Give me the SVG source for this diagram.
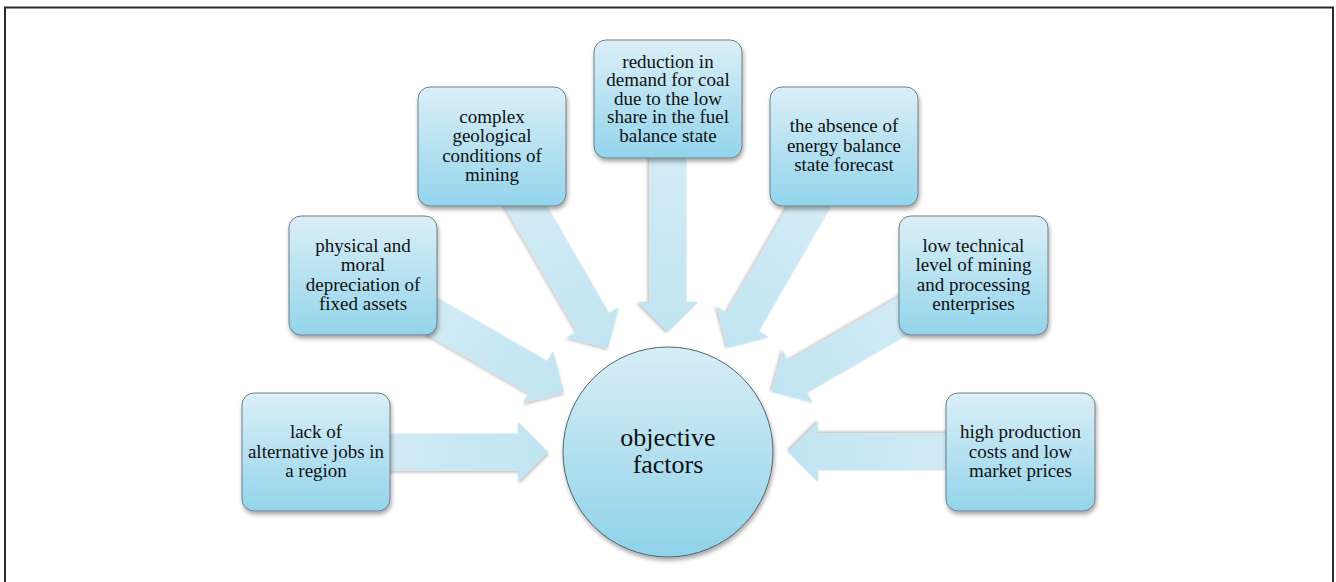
<svg xmlns="http://www.w3.org/2000/svg" width="1336" height="582" viewBox="0 0 1336 582">
<defs>
<linearGradient id="boxg" x1="0" y1="0" x2="0" y2="1">
<stop offset="0" stop-color="#dbeff7"/>
<stop offset="1" stop-color="#93d4eb"/>
</linearGradient>
<linearGradient id="circg" x1="0" y1="0" x2="0" y2="1">
<stop offset="0" stop-color="#d8eef6"/>
<stop offset="1" stop-color="#8fd2ea"/>
</linearGradient>
<linearGradient id="arrg" gradientUnits="userSpaceOnUse" x1="-352" y1="0" x2="-120" y2="0">
<stop offset="0" stop-color="#d9eef7"/>
<stop offset="1" stop-color="#c0e4f2"/>
</linearGradient>
<filter id="sh" x="-20%" y="-20%" width="140%" height="140%">
<feDropShadow dx="1" dy="3" stdDeviation="2" flood-color="#000" flood-opacity="0.35"/>
</filter>
<filter id="ash" x="-20%" y="-20%" width="140%" height="140%">
<feDropShadow dx="1" dy="2" stdDeviation="1.5" flood-color="#000" flood-opacity="0.25"/>
</filter>
</defs>
<style>
.box{fill:url(#boxg);stroke:#6f7f86;stroke-width:1;filter:url(#sh)}
.t{font-size:19px;fill:#111;text-anchor:middle}
.ct{font-size:26px;fill:#111;text-anchor:middle}
.arr{fill:url(#arrg);filter:url(#ash)}
</style>
<rect x="5" y="7.5" width="1328" height="600" fill="#fff" stroke="#2b2b2b" stroke-width="2"/>
<g id="connectors" transform="translate(668,452)">
<path id="arrow-lack" class="arr" d="M-352,-18.5 L-150,-18.5 L-150,-30 L-120,0 L-150,30 L-150,18.5 L-352,18.5 Z"/>
<path id="arrow-physical" class="arr" transform="rotate(30)" d="M-352,-18.5 L-150,-18.5 L-150,-30 L-120,0 L-150,30 L-150,18.5 L-352,18.5 Z"/>
<path id="arrow-complex" class="arr" transform="rotate(60)" d="M-352,-18.5 L-150,-18.5 L-150,-30 L-120,0 L-150,30 L-150,18.5 L-352,18.5 Z"/>
<path id="arrow-reduction" class="arr" transform="rotate(90)" d="M-352,-18.5 L-150,-18.5 L-150,-30 L-120,0 L-150,30 L-150,18.5 L-352,18.5 Z"/>
<path id="arrow-absence" class="arr" transform="rotate(120)" d="M-352,-18.5 L-150,-18.5 L-150,-30 L-120,0 L-150,30 L-150,18.5 L-352,18.5 Z"/>
<path id="arrow-lowtech" class="arr" transform="rotate(150)" d="M-352,-18.5 L-150,-18.5 L-150,-30 L-120,0 L-150,30 L-150,18.5 L-352,18.5 Z"/>
<path id="arrow-high" class="arr" transform="rotate(180)" d="M-352,-18.5 L-150,-18.5 L-150,-30 L-120,0 L-150,30 L-150,18.5 L-352,18.5 Z"/>
</g>
<g font-family="Liberation Serif, serif">
<g id="node-center">
<circle cx="668" cy="452" r="105" fill="url(#circg)" stroke="#55656b" stroke-width="1" filter="url(#sh)"/>
<text class="ct" x="668" y="446">objective</text>
<text class="ct" x="668" y="473">factors</text>
</g>
<g id="node-lack">
<rect class="box" x="242" y="393" width="148" height="118" rx="12"/>
<text class="t" x="316" y="438">lack of</text>
<text class="t" x="316" y="457.5">alternative jobs in</text>
<text class="t" x="316" y="477">a region</text>
</g>
<g id="node-physical">
<rect class="box" x="289" y="216" width="148" height="119" rx="12"/>
<text class="t" x="363" y="251.5">physical  and</text>
<text class="t" x="363" y="271">moral</text>
<text class="t" x="363" y="290.5">depreciation of</text>
<text class="t" x="363" y="310">fixed assets</text>
</g>
<g id="node-complex">
<rect class="box" x="418" y="87" width="148" height="119" rx="12"/>
<text class="t" x="492" y="122.5">complex</text>
<text class="t" x="492" y="142">geological</text>
<text class="t" x="492" y="161.5">conditions of</text>
<text class="t" x="492" y="181">mining</text>
</g>
<g id="node-reduction">
<rect class="box" x="594" y="40" width="148" height="118" rx="12"/>
<text class="t" x="668" y="67.5">reduction in</text>
<text class="t" x="668" y="86">demand  for coal</text>
<text class="t" x="668" y="104.5">due to the low</text>
<text class="t" x="668" y="123">share in the fuel</text>
<text class="t" x="668" y="141.5">balance state</text>
</g>
<g id="node-absence">
<rect class="box" x="770" y="87" width="148" height="119" rx="12"/>
<text class="t" x="844" y="132">the absence of</text>
<text class="t" x="844" y="151.5">energy  balance</text>
<text class="t" x="844" y="171">state forecast</text>
</g>
<g id="node-lowtech">
<rect class="box" x="899" y="216" width="149" height="119" rx="12"/>
<text class="t" x="973.5" y="251.5">low technical</text>
<text class="t" x="973.5" y="271">level of mining</text>
<text class="t" x="973.5" y="290.5">and processing</text>
<text class="t" x="973.5" y="310">enterprises</text>
</g>
<g id="node-high">
<rect class="box" x="946" y="393" width="149" height="118" rx="12"/>
<text class="t" x="1020.5" y="438">high production</text>
<text class="t" x="1020.5" y="457.5">costs and low</text>
<text class="t" x="1020.5" y="477">market prices</text>
</g>
</g>
</svg>
